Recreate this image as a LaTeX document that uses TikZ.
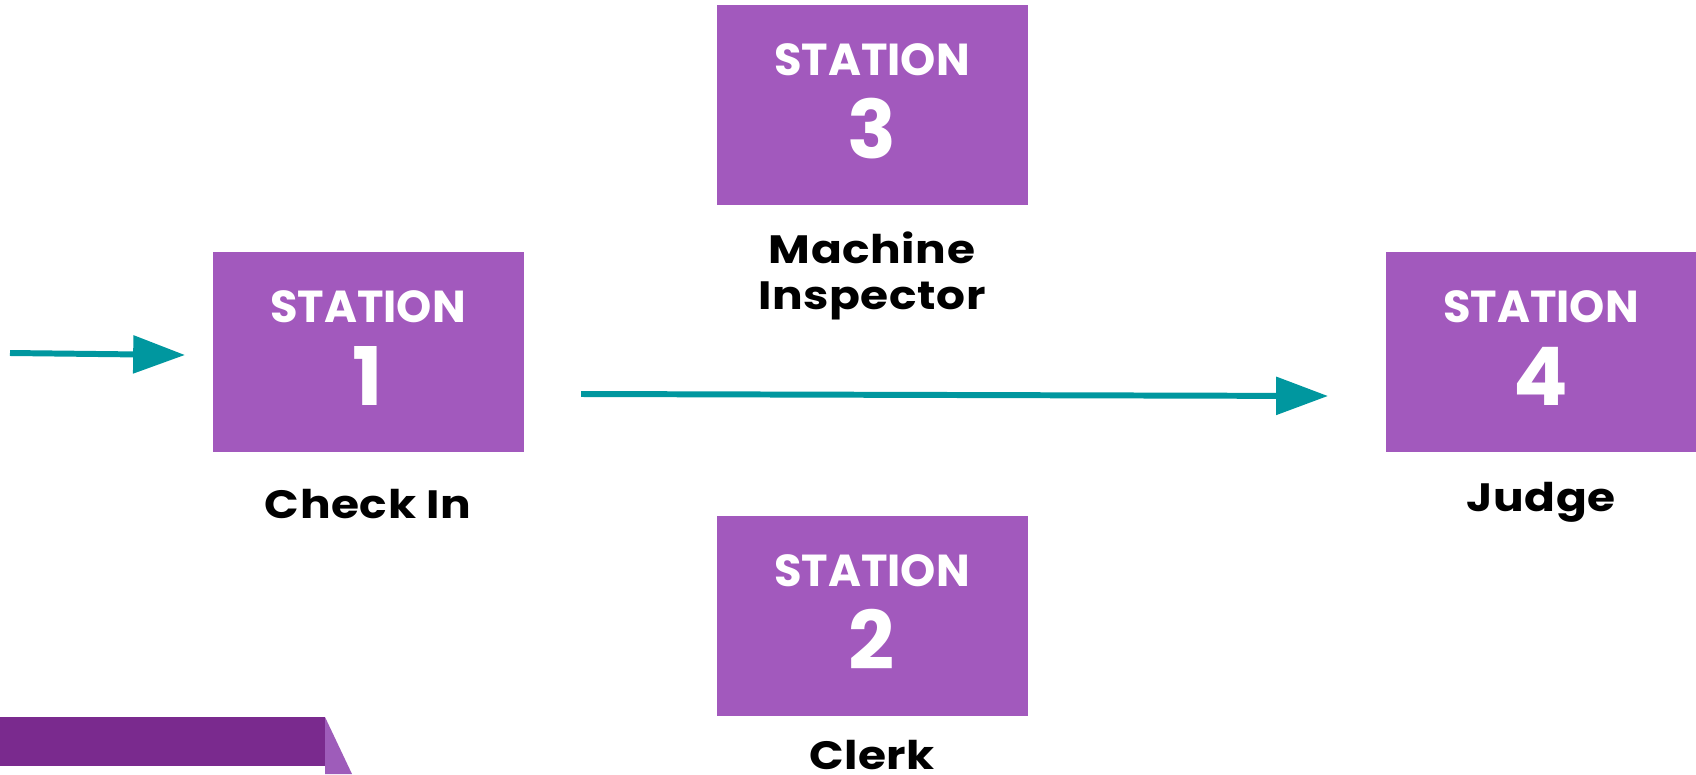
\documentclass[tikz,border=0pt]{standalone}
\usepackage{fontspec}
\setmainfont{Poppins}
\newfontfamily\capfont{Poppins}[FakeStretch=1.15, LetterSpace=1.5]
\usetikzlibrary{arrows.meta,calc}
\definecolor{boxpurple}{HTML}{A259BD}
\definecolor{bandpurple}{HTML}{7A2A8E}
\definecolor{foldpurple}{HTML}{9E5CBA}
\definecolor{teal}{HTML}{00979F}
\tikzset{
  stationbox/.style={fill=boxpurple, draw=none, minimum width=311*0.02cm, minimum height=200*0.02cm,
    inner sep=0pt},
  stationtitle/.style={anchor=base, inner sep=0pt, text=white, font=\bfseries\fontsize{25.5}{28}\selectfont},
  stationnum/.style={anchor=base, inner sep=0pt, text=white, font=\bfseries\fontsize{46}{48}\selectfont},
  caption/.style={anchor=base, inner sep=0pt, font=\capfont\bfseries\fontsize{22.5}{25.5}\selectfont, text=black, align=center},
  flow/.style={draw=teal, line width=3.4pt, -{Triangle[length=29.5pt,width=21pt]}},
}
\begin{document}
\begin{tikzpicture}[x=0.02cm,y=-0.02cm]
\useasboundingbox (0,0) rectangle (1696,774);
% bottom-left band
\fill[bandpurple] (0,717) rectangle (325,766);
\fill[foldpurple] (325,717) -- (352,774) -- (325,774) -- cycle;
% stations
\node[stationbox] (s1) at (368,352) {};
\node[stationbox] (s3) at (872,105) {};
\node[stationbox] (s2) at (872,616) {};
\node[stationbox] (s4) at (1541,352) {};
\foreach \s/\n in {s1/1,s2/2,s3/3,s4/4}{
  \node[stationtitle] (\s t) at ($(\s.north)+(0,71)$) {STATION};
  \node[stationnum] (\s n) at ($(\s.north)+(0,154)$) {\n};
}
% captions
\node[caption] (c1) at (368,518) {Check In};
\node[caption] (c3a) at (872,263) {Machine};
\node[caption] (c3b) at (872,309) {Inspector};
\node[caption] (c2) at (872,769) {Clerk};
\node[caption] (c4) at (1541,511) {Judge};
% arrows
\coordinate (in0) at (10,353);
\coordinate (in1) at (185,355);
\coordinate (m0) at (581,394);
\coordinate (m1) at (1328,396);
\draw[flow] (in0) -- (in1);
\draw[flow] (m0) -- (m1);
\end{tikzpicture}
\end{document}
